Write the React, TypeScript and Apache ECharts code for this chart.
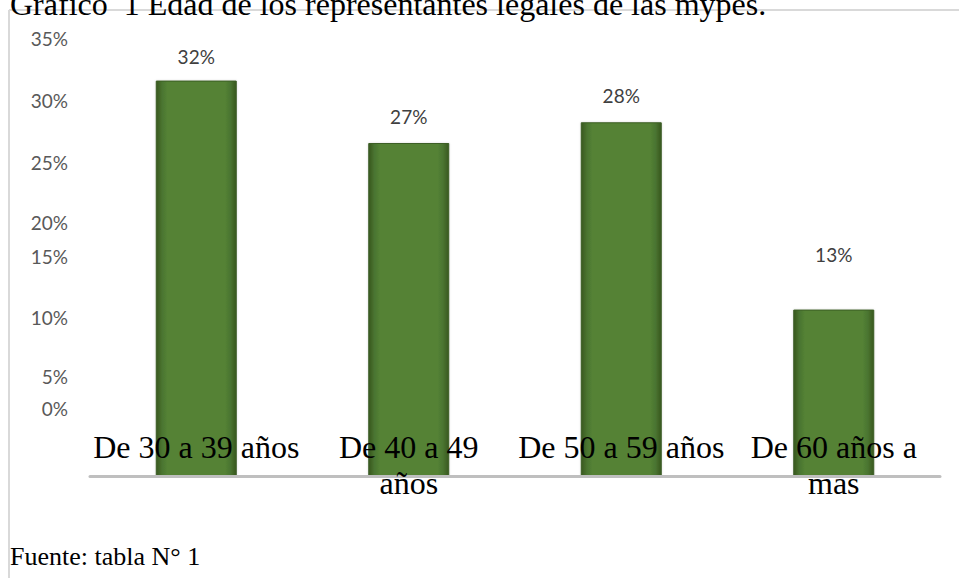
import React, { useEffect, useRef } from "react";
import * as echarts from "echarts";

// ---- data ----
const categories = ["De 30 a 39 años", "De 40 a 49\naños", "De 50 a 59 años", "De 60 años a\nmas"];
const percentValues = [31.67, 26.67, 28.33, 13.33];
const yTicks = [0, 5, 10, 15, 20, 25, 30, 35];
const titleText = "Gráfico  1 Edad de los representantes legales de las mypes.";
const sourceText = "Fuente: tabla N° 1";

// ---- styling (kept apart from data) ----
const tickLabelLift: Record<number, number> = { 0: 68, 5: 37, 10: 34, 15: 32, 20: 4, 25: 1, 30: 1, 35: 1 };
const barLabelDistance = [15, 17, 17, 46];
const SANS = "Lato, 'Open Sans', sans-serif";
const SERIF = "'Liberation Serif', 'Times New Roman', serif";

export default function App() {
  const ref = useRef<HTMLDivElement>(null);

  useEffect(() => {
    if (!ref.current) return;
    const chart = echarts.init(ref.current, undefined, { renderer: "svg" });

    const rich: Record<string, any> = {};
    yTicks.forEach((v) => {
      rich["t" + v] = {
        fontFamily: SANS,
        fontSize: 19,
        color: "#595959",
        padding: [0, 0, 2 * (tickLabelLift[v] || 0), 0],
      };
    });

    const barColor = new echarts.graphic.LinearGradient(0, 0, 1, 0, [
      { offset: 0, color: "#38581f" },
      { offset: 0.07, color: "#4a7430" },
      { offset: 0.14, color: "#548235" },
      { offset: 0.86, color: "#548235" },
      { offset: 0.93, color: "#4a7430" },
      { offset: 1, color: "#38581f" },
    ]);

    chart.setOption({
      animation: false,
      backgroundColor: "#ffffff",
      grid: { left: 90, right: 19, top: 39, bottom: 102, containLabel: false },
      xAxis: {
        type: "category",
        data: categories,
        axisLine: { show: true, lineStyle: { color: "#bfbfbf", width: 3 } },
        axisTick: { show: false },
        axisLabel: {
          interval: 0,
          margin: -47,
          color: "#000000",
          fontFamily: SERIF,
          fontSize: 32,
          lineHeight: 36,
          verticalAlign: "top",
        },
        z: 5,
      },
      yAxis: {
        type: "value",
        min: 0,
        max: 35,
        interval: 5,
        axisLine: { show: false },
        axisTick: { show: false },
        splitLine: { show: false },
        axisLabel: {
          margin: 22,
          formatter: (v: number) => `{t${v}|${v}%}`,
          rich,
        },
      },
      series: [
        {
          type: "bar",
          barWidth: 81,
          z: 2,
          data: percentValues.map((v, i) => ({
            value: v,
            label: { distance: barLabelDistance[i] },
          })),
          itemStyle: {
            color: barColor,
            borderColor: "#3c5e25",
            borderWidth: 1,
            shadowColor: "rgba(0,0,0,0.15)",
            shadowBlur: 2,
          },
          label: {
            show: true,
            position: "top",
            formatter: (p: any) => `${Math.round(p.value)}%`,
            fontFamily: SANS,
            fontSize: 19,
            color: "#404040",
          },
        },
      ],
      graphic: [
        {
          type: "line",
          shape: { x1: 9, y1: 10, x2: 959, y2: 10 },
          style: { stroke: "#d9d9d9", lineWidth: 2 },
          z: 1,
        },
        {
          type: "line",
          shape: { x1: 9, y1: 10, x2: 9, y2: 578 },
          style: { stroke: "#d9d9d9", lineWidth: 2 },
          z: 1,
        },
        {
          type: "text",
          x: 10,
          y: 4,
          z: 10,
          style: {
            text: titleText,
            font: `32px ${SERIF}`,
            fill: "#000000",
            verticalAlign: "middle",
          },
        },
        {
          type: "text",
          x: 10,
          y: 556,
          z: 10,
          style: {
            text: sourceText,
            font: `26px ${SERIF}`,
            fill: "#000000",
            verticalAlign: "middle",
          },
        },
      ],
    });

    return () => chart.dispose();
  }, []);

  return (
    <div
      ref={ref}
      style={{ position: "absolute", left: 0, top: 0, width: 959, height: 578 }}
    />
  );
}
